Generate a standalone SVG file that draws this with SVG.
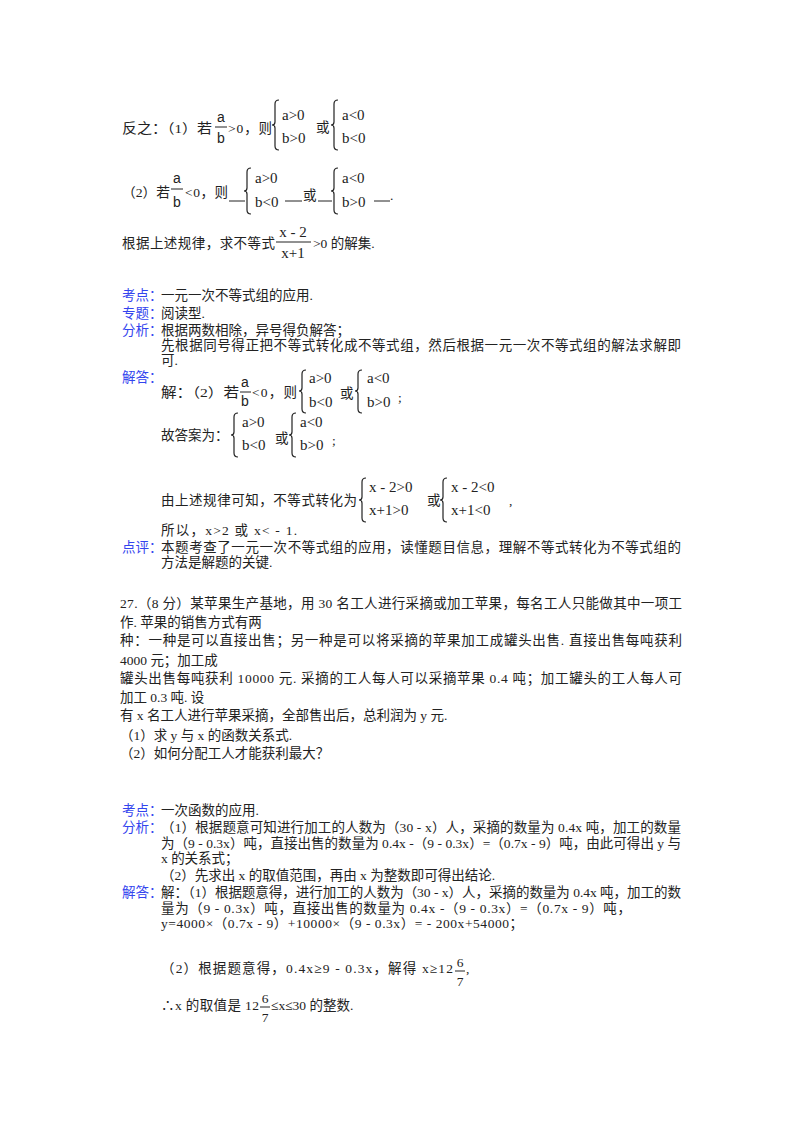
<svg xmlns="http://www.w3.org/2000/svg" width="800" height="1132" viewBox="0 0 800 1132">
<style>
text{font-family:"Liberation Serif","Noto Sans CJK SC",serif;font-size:13.5px;fill:#222}
.m{font-family:"Liberation Serif","Noto Sans CJK SC",serif;font-size:15px}
.f{font-family:"Liberation Sans",sans-serif;font-size:14px}
.l{fill:#3344ee}
.br{fill:none;stroke:#222;stroke-width:1.2}
.ul{stroke:#222;stroke-width:1}
</style>
<rect width="800" height="1132" fill="#fff"/>
<!-- part 1 -->
<text x="122" y="133" textLength="90" lengthAdjust="spacingAndGlyphs">反之：（1）若</text>
<text class="f" x="221" y="122" text-anchor="middle">a</text>
<line class="ul" x1="215" y1="127" x2="227" y2="127"/>
<text class="f" x="221" y="143" text-anchor="middle">b</text>
<text x="228" y="133" textLength="44">&gt;0，则</text>
<path class="br" d="M279,100 Q275,100 275,104 L275,122 Q275,125 272,125 Q275,125 275,128 L275,146 Q275,150 279,150"/>
<text class="m" x="282" y="120">a&gt;0</text>
<text class="m" x="282" y="143">b&gt;0</text>
<text x="316" y="132">或</text>
<path class="br" d="M338,100 Q334,100 334,104 L334,122 Q334,125 331,125 Q334,125 334,128 L334,146 Q334,150 338,150"/>
<text class="m" x="342" y="120">a&lt;0</text>
<text class="m" x="342" y="143">b&lt;0</text>

<text x="122" y="197" textLength="48" lengthAdjust="spacingAndGlyphs">（2）若</text>
<text class="f" x="177" y="183" text-anchor="middle">a</text>
<line class="ul" x1="171" y1="189" x2="183" y2="189"/>
<text class="f" x="177" y="207" text-anchor="middle">b</text>
<text x="185" y="197" textLength="43">&lt;0，则</text>
<line class="ul" x1="229" y1="201" x2="245" y2="201"/>
<path class="br" d="M251,168 Q247,168 247,172 L247,188 Q247,191 244,191 Q247,191 247,194 L247,210 Q247,214 251,214"/>
<text class="m" x="255" y="183">a&gt;0</text>
<text class="m" x="255" y="207">b&lt;0</text>
<line class="ul" x1="285" y1="201" x2="302" y2="201"/>
<text x="303" y="200">或</text>
<line class="ul" x1="318" y1="201" x2="332" y2="201"/>
<path class="br" d="M338,168 Q334,168 334,172 L334,188 Q334,191 331,191 Q334,191 334,194 L334,210 Q334,214 338,214"/>
<text class="m" x="342" y="183">a&lt;0</text>
<text class="m" x="342" y="207">b&gt;0</text>
<line class="ul" x1="374" y1="201" x2="390" y2="201"/>
<text x="390" y="200">.</text>

<text x="122" y="248" textLength="153">根据上述规律，求不等式</text>
<text class="m" x="293" y="237" text-anchor="middle">x - 2</text>
<line class="ul" x1="276" y1="242" x2="311" y2="242"/>
<text class="m" x="293" y="258" text-anchor="middle">x+1</text>
<text x="313" y="248">&gt;0 的解集.</text>

<!-- part 2 -->
<text class="l" x="122" y="300">考点：</text>
<text x="161" y="300">一元一次不等式组的应用.</text>
<text class="l" x="122" y="318">专题：</text>
<text x="161" y="318">阅读型.</text>
<text class="l" x="122" y="335">分析：</text>
<text x="161" y="335">根据两数相除，异号得负解答；</text>
<text x="161" y="350" textLength="520">先根据同号得正把不等式转化成不等式组，然后根据一元一次不等式组的解法求解即</text>
<text x="161" y="365">可.</text>
<text class="l" x="122" y="382">解答：</text>
<text x="161" y="397" textLength="78" lengthAdjust="spacingAndGlyphs">解：（2）若</text>
<text class="f" x="245" y="387" text-anchor="middle">a</text>
<line class="ul" x1="240" y1="392" x2="251" y2="392"/>
<text class="f" x="245" y="406" text-anchor="middle">b</text>
<text x="252" y="397" textLength="45">&lt;0，则</text>
<path class="br" d="M306,370 Q302,370 302,374 L302,388 Q302,391 299,391 Q302,391 302,394 L302,409 Q302,413 306,413"/>
<text class="m" x="309" y="383">a&gt;0</text>
<text class="m" x="309" y="407">b&lt;0</text>
<text x="340" y="398">或</text>
<path class="br" d="M362,370 Q358,370 358,374 L358,388 Q358,391 355,391 Q358,391 358,394 L358,409 Q358,413 362,413"/>
<text class="m" x="367" y="383">a&lt;0</text>
<text class="m" x="367" y="407">b&gt;0</text>
<text x="398" y="402">;</text>
<text x="161" y="440">故答案为：</text>
<path class="br" d="M238,413 Q234,413 234,417 L234,432 Q234,435 231,435 Q234,435 234,438 L234,453 Q234,457 238,457"/>
<text class="m" x="242" y="427">a&gt;0</text>
<text class="m" x="242" y="450">b&lt;0</text>
<text x="275" y="443">或</text>
<path class="br" d="M296,413 Q292,413 292,417 L292,432 Q292,435 289,435 Q292,435 292,438 L292,453 Q292,457 296,457"/>
<text class="m" x="300" y="427">a&lt;0</text>
<text class="m" x="300" y="450">b&gt;0</text>
<text x="332" y="445">;</text>
<text x="161" y="505" textLength="196">由上述规律可知，不等式转化为</text>
<path class="br" d="M366,478 Q362,478 362,482 L362,497 Q362,500 359,500 Q362,500 362,503 L362,518 Q362,522 366,522"/>
<text class="m" x="369" y="492">x - 2&gt;0</text>
<text class="m" x="369" y="515">x+1&gt;0</text>
<text x="427" y="505">或</text>
<path class="br" d="M447,478 Q443,478 443,482 L443,497 Q443,500 440,500 Q443,500 443,503 L443,518 Q443,522 447,522"/>
<text class="m" x="451" y="492">x - 2&lt;0</text>
<text class="m" x="451" y="515">x+1&lt;0</text>
<text x="509" y="505">,</text>
<text x="161" y="535" textLength="136">所以，x&gt;2 或 x&lt; - 1.</text>
<text class="l" x="122" y="552">点评：</text>
<text x="161" y="552" textLength="520">本题考查了一元一次不等式组的应用，读懂题目信息，理解不等式转化为不等式组的</text>
<text x="161" y="567">方法是解题的关键.</text>

<!-- part 3 -->
<text x="120" y="608" textLength="562">27.（8 分）某苹果生产基地，用 30 名工人进行采摘或加工苹果，每名工人只能做其中一项工</text>
<text x="120" y="627">作. 苹果的销售方式有两</text>
<text x="120" y="645" textLength="562">种：一种是可以直接出售；另一种是可以将采摘的苹果加工成罐头出售. 直接出售每吨获利</text>
<text x="120" y="665">4000 元；加工成</text>
<text x="120" y="683" textLength="562">罐头出售每吨获利 10000 元. 采摘的工人每人可以采摘苹果 0.4 吨；加工罐头的工人每人可</text>
<text x="120" y="702">加工 0.3 吨. 设</text>
<text x="120" y="720">有 x 名工人进行苹果采摘，全部售出后，总利润为 y 元.</text>
<text x="120" y="740">（1）求 y 与 x 的函数关系式.</text>
<text x="120" y="758">（2）如何分配工人才能获利最大？</text>

<!-- part 4 -->
<text class="l" x="122" y="815">考点：</text>
<text x="161" y="815">一次函数的应用.</text>
<text class="l" x="122" y="832">分析：</text>
<text x="161" y="832" textLength="520">（1）根据题意可知进行加工的人数为（30 - x）人，采摘的数量为 0.4x 吨，加工的数量</text>
<text x="161" y="848" textLength="520">为（9 - 0.3x）吨，直接出售的数量为 0.4x -（9 - 0.3x）=（0.7x - 9）吨，由此可得出 y 与</text>
<text x="161" y="863">x 的关系式；</text>
<text x="161" y="880">（2）先求出 x 的取值范围，再由 x 为整数即可得出结论.</text>
<text class="l" x="122" y="897">解答：</text>
<text x="161" y="897" textLength="520">解：（1）根据题意得，进行加工的人数为（30 - x）人，采摘的数量为 0.4x 吨，加工的数</text>
<text x="161" y="913" textLength="470">量为（9 - 0.3x）吨，直接出售的数量为 0.4x -（9 - 0.3x）=（0.7x - 9）吨，</text>
<text x="161" y="928" textLength="362">y=4000×（0.7x - 9）+10000×（9 - 0.3x）= - 200x+54000；</text>
<text x="161" y="973" textLength="292">（2）根据题意得，0.4x≥9 - 0.3x，解得 x≥12</text>
<text x="460" y="967" text-anchor="middle">6</text>
<line class="ul" x1="455" y1="971" x2="465" y2="971"/>
<text x="460" y="986" text-anchor="middle">7</text>
<text x="466" y="973">,</text>
<text x="161" y="1010" textLength="98">∴x 的取值是 12</text>
<text x="265" y="1003" text-anchor="middle">6</text>
<line class="ul" x1="260" y1="1007" x2="270" y2="1007"/>
<text x="265" y="1022" text-anchor="middle">7</text>
<text x="271" y="1010">≤x≤30 的整数.</text>
</svg>
